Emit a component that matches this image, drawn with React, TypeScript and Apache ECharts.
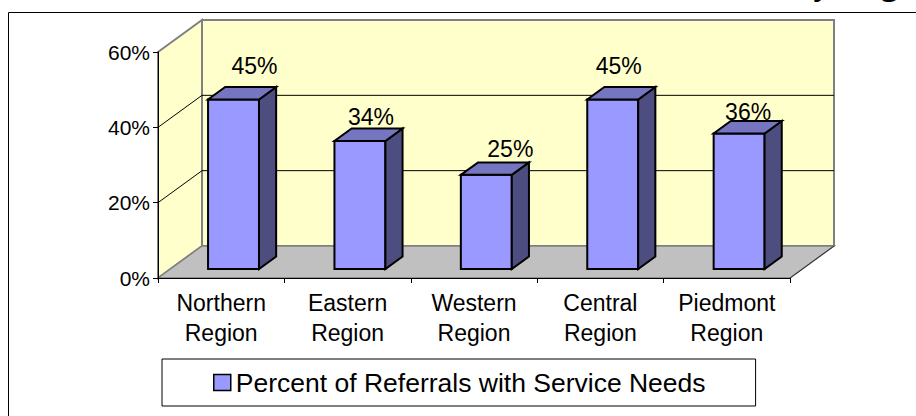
import React, { useEffect, useRef } from 'react';
import * as echarts from 'echarts';

// ---- data ----
const categories = ['Northern Region', 'Eastern Region', 'Western Region', 'Central Region', 'Piedmont Region'];
const percentValues = [0.45, 0.34, 0.25, 0.45, 0.36];
const wallGridValues = [0.2, 0.4];
const seriesName = 'Percent of Referrals with Service Needs';
const partialTitle = 'by Region';

// ---- styling / 3D projection ----
const FONT = 'Liberation Sans, Arial, sans-serif';
const DX = 44;
const DY = -32;
const BAR_FRONT = 0.28;
const BAR_BACK = 0.67;
const BAR_WIDTH_RATIO = 0.403;
const labelShiftX = [21, 11, 24, 6, 9];
const labelShiftY = [-34, -24, -26, -34, -21];

const pct = (v: number) => Math.round(v * 100) + '%';

function renderWalls(params: any, api: any) {
  const cs = params.coordSys;
  const x0 = cs.x;
  const y0 = cs.y;
  const x1 = cs.x + cs.width;
  const yb = cs.y + cs.height;
  const children: any[] = [];
  children.push({
    type: 'polygon',
    shape: { points: [[x0 + DX, y0 + DY], [x1 + DX, y0 + DY], [x1 + DX, yb + DY], [x0 + DX, yb + DY]] },
    style: { fill: '#FFFFCC', stroke: '#808080', lineWidth: 2 },
  });
  children.push({
    type: 'polygon',
    shape: { points: [[x0, y0], [x0 + DX, y0 + DY], [x0 + DX, yb + DY], [x0, yb]] },
    style: { fill: '#FFFFCC', stroke: '#808080', lineWidth: 2 },
  });
  children.push({
    type: 'polygon',
    shape: { points: [[x0, yb], [x1, yb], [x1 + DX, yb + DY], [x0 + DX, yb + DY]] },
    style: { fill: '#C0C0C0', stroke: '#808080', lineWidth: 1.5 },
  });
  children.push({
    type: 'line',
    shape: { x1: x1, y1: yb, x2: x1 + DX, y2: yb + DY },
    style: { stroke: '#333333', lineWidth: 1 },
  });
  wallGridValues.forEach((g) => {
    const y = api.coord([0, g])[1];
    children.push({
      type: 'polyline',
      shape: { points: [[x0, y], [x0 + DX, y + DY], [x1 + DX, y + DY]] },
      style: { stroke: '#000000', lineWidth: 1, fill: 'none' },
    });
  });
  return { type: 'group', children };
}

function renderBars(params: any, api: any) {
  const idx = api.value(0);
  const v = api.value(1);
  const top0 = api.coord([idx, v]);
  const zero = api.coord([idx, 0]);
  const bw = api.size([1, 0])[0] * BAR_WIDTH_RATIO;
  const fx = DX * BAR_FRONT;
  const fy = DY * BAR_FRONT;
  const dbx = DX * (BAR_BACK - BAR_FRONT);
  const dby = DY * (BAR_BACK - BAR_FRONT);
  const cx = top0[0] + fx;
  const l = cx - bw / 2;
  const r = cx + bw / 2;
  const t = top0[1] + fy;
  const b = zero[1] + fy;
  const stroke = { stroke: '#000000', lineWidth: 2, lineJoin: 'miter' };
  return {
    type: 'group',
    children: [
      {
        type: 'text',
        x: cx + labelShiftX[idx],
        y: t + labelShiftY[idx],
        style: {
          text: pct(v),
          fill: '#000',
          fontSize: 23,
          fontFamily: FONT,
          align: 'center',
          verticalAlign: 'middle',
        },
      },
      {
        type: 'polygon',
        shape: { points: [[l, t], [r, t], [r, b], [l, b]] },
        style: { fill: '#9999FF', ...stroke },
      },
      {
        type: 'polygon',
        shape: { points: [[r, t], [r + dbx, t + dby], [r + dbx, b + dby], [r, b]] },
        style: { fill: '#4D4D80', ...stroke },
      },
      {
        type: 'polygon',
        shape: { points: [[l, t], [r, t], [r + dbx, t + dby], [l + dbx, t + dby]] },
        style: { fill: '#7575C2', ...stroke },
      },
    ],
  };
}

export default function App() {
  const ref = useRef<HTMLDivElement>(null);
  useEffect(() => {
    const chart = echarts.init(ref.current!, null, { renderer: 'svg' });
    const option: any = {
      animation: false,
      backgroundColor: '#ffffff',
      textStyle: { fontFamily: FONT },
      grid: { left: 158, top: 52, width: 632, height: 226, containLabel: false, outerBoundsMode: 'none' },
      xAxis: {
        type: 'category',
        data: categories,
        boundaryGap: true,
        z: 10,
        axisLine: { show: true, lineStyle: { color: '#000', width: 1 } },
        axisTick: { show: true, length: 5, lineStyle: { color: '#000' } },
        splitLine: { show: false },
        axisLabel: {
          interval: 0,
          color: '#000',
          fontSize: 23,
          fontFamily: FONT,
          lineHeight: 30,
          margin: 10,
          formatter: (s: string) => s.replace(' ', '\n'),
        },
      },
      yAxis: {
        type: 'value',
        min: 0,
        max: 0.6,
        interval: 0.2,
        z: 10,
        axisLine: { show: true, lineStyle: { color: '#000', width: 1 } },
        axisTick: { show: true, length: 5, lineStyle: { color: '#000' } },
        splitLine: { show: false },
        axisLabel: { color: '#000', fontSize: 21, fontFamily: FONT, margin: 8, formatter: (v: number) => pct(v) },
      },
      legend: {
        show: true,
        data: [{ name: seriesName, icon: 'rect' }],
        left: 162,
        top: 359,
        orient: 'horizontal',
        padding: [10, 50, 10, 51],
        backgroundColor: '#fff',
        borderColor: '#000',
        borderWidth: 1,
        borderRadius: 0,
        itemWidth: 17,
        itemHeight: 16,
        itemStyle: { borderColor: '#000', borderWidth: 1.5 },
        textStyle: { fontSize: 26.5, color: '#000', fontFamily: FONT },
        selectedMode: false,
      },
      graphic: [
        {
          type: 'rect',
          shape: { x: 8.5, y: 12.5, width: 1000, height: 1000 },
          style: { fill: 'none', stroke: '#000', lineWidth: 1 },
          z: 0,
          silent: true,
        },
        {
          type: 'text',
          x: 794,
          y: -18,
          style: {
            text: partialTitle,
            fill: '#000',
            font: 'bold 35px "Liberation Serif", "Times New Roman", serif',
            align: 'left',
            verticalAlign: 'middle',
          },
          silent: true,
        },
      ],
      series: [
        {
          type: 'custom',
          name: '__walls',
          data: [[0, 0]],
          renderItem: renderWalls,
          z: 1,
          silent: true,
          clip: false,
        },
        {
          type: 'custom',
          name: seriesName,
          data: percentValues.map((v, i) => [i, v]),
          renderItem: renderBars,
          itemStyle: { color: '#9999FF' },
          z: 3,
          silent: true,
          clip: false,
        },
      ],
    };
    chart.setOption(option);
    return () => chart.dispose();
  }, []);
  return (
    <div
      ref={ref}
      style={{ position: 'fixed', left: 0, top: 0, width: 916, height: 416, background: '#fff' }}
    />
  );
}
